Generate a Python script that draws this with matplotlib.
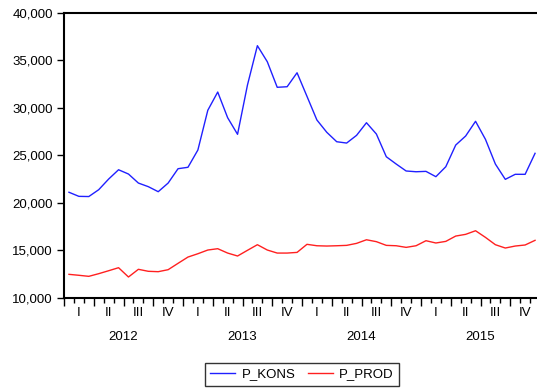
import matplotlib
matplotlib.use("Agg")
from matplotlib import pyplot as plt
from matplotlib.ticker import FuncFormatter, FixedLocator

plt.rcParams['font.family'] = ['Liberation Sans', 'DejaVu Sans']

# monthly series, Jan 2012 - Dec 2015
years = [2012, 2013, 2014, 2015]
quarters = ['I', 'II', 'III', 'IV']

p_kons = [21100, 20670, 20650, 21370, 22490, 23470, 23020, 22070, 21690, 21160, 22070, 23580,
          23730, 25550, 29730, 31650, 28950, 27200, 32390, 36530, 34840, 32150, 32210, 33680,
          31200, 28710, 27410, 26420, 26280, 27090, 28420, 27230, 24840, 24070, 23340, 23260,
          23300, 22740, 23790, 26070, 27020, 28570, 26670, 24070, 22460, 22990, 22990, 25200]

p_prod = [12460, 12360, 12250, 12530, 12840, 13160, 12180, 12990, 12780, 12740, 12950, 13620,
          14280, 14630, 15020, 15160, 14700, 14390, 14990, 15580, 15020, 14700, 14700, 14770,
          15620, 15470, 15440, 15470, 15510, 15720, 16100, 15900, 15510, 15470, 15300, 15470,
          16000, 15760, 15930, 16490, 16670, 17050, 16350, 15580, 15230, 15440, 15550, 16040]

n = len(p_kons)
months = list(range(n))

fig = plt.figure(figsize=(5.37, 3.88), dpi=100)
ax = fig.add_axes([0.1192, 0.2327, 0.8864, 0.7345])

ax.plot(months, p_kons, color='#2020ff', lw=1.0, label='P_KONS')
ax.plot(months, p_prod, color='#ff2020', lw=1.0, label='P_PROD')

ax.set_xlim(-0.5, n - 0.5)
ax.set_ylim(10000, 40000)
ax.set_yticks([10000, 15000, 20000, 25000, 30000, 35000, 40000])
ax.yaxis.set_major_formatter(FuncFormatter(lambda v, p: '{:,.0f}'.format(v)))
ax.tick_params(axis='y', direction='out', length=5, width=1, labelsize=9.5, pad=3)

# long ticks on quarter boundaries, short ones between months
ax.xaxis.set_major_locator(FixedLocator([q * 3 - 0.5 for q in range(n // 3 + 1)]))
ax.xaxis.set_minor_locator(FixedLocator([m + 0.5 for m in range(n) if (m + 1) % 3 != 0]))
ax.set_xticklabels([])
ax.tick_params(axis='x', which='major', direction='out', length=6, width=1)
ax.tick_params(axis='x', which='minor', direction='out', length=3.5, width=1)

tr = ax.get_xaxis_transform()
for i, yr in enumerate(years):
    for j, q in enumerate(quarters):
        ax.annotate(q, xy=(i * 12 + j * 3 + 1, 0), xycoords=tr, xytext=(0, -11.2),
                    textcoords='offset points', ha='center', va='center', fontsize=9.5)
    ax.annotate(str(yr), xy=(i * 12 + 5.5, 0), xycoords=tr, xytext=(0, -28.1),
                textcoords='offset points', ha='center', va='center', fontsize=9.5)

for s in ['top', 'left', 'bottom', 'right']:
    ax.spines[s].set_linewidth(1.5)
    ax.spines[s].set_color('black')

leg = fig.legend(loc='center', bbox_to_anchor=(302 / 537, 1 - 374.3 / 388), ncol=2,
                 fontsize=9.5, frameon=True, fancybox=False, edgecolor='black',
                 handlelength=1.9, columnspacing=0.9, borderpad=0.4, handletextpad=0.5)
leg.get_frame().set_linewidth(1.0)

plt.savefig("out.png", dpi=100)
